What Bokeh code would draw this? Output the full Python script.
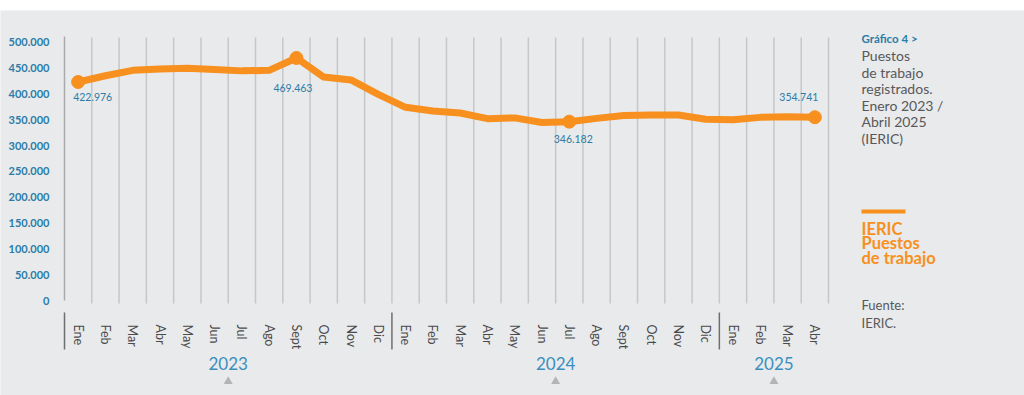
from bokeh.plotting import figure
from bokeh.models import FixedTicker, LinearAxis, Range1d
from bokeh.core.properties import value
from bokeh.embed import file_html
from bokeh.resources import INLINE

# ---- data ----
years = ["2023"] * 12 + ["2024"] * 12 + ["2025"] * 4
months = ["Ene", "Feb", "Mar", "Abr", "May", "Jun", "Jul", "Ago", "Sept", "Oct", "Nov", "Dic",
          "Ene", "Feb", "Mar", "Abr", "May", "Jun", "Jul", "Ago", "Sept", "Oct", "Nov", "Dic",
          "Ene", "Feb", "Mar", "Abr"]
puestos = [422976, 435000, 445500, 448000, 449500, 447000, 444500, 445500, 469463, 432500, 427000, 399000,
           374000, 367000, 363000, 352000, 353500, 344500, 346182, 352500, 358000, 359000, 359000, 351000,
           350000, 354500, 355500, 354741]
highlight_idx = [0, 8, 18, 27]
y_ticks = [0, 50000, 100000, 150000, 200000, 250000, 300000, 350000, 400000, 450000, 500000]

titulo = "Gráfico 4 >"
title_lines = ["Puestos", "de trabajo", "registrados.", "Enero 2023 /", "Abril 2025", "(IERIC)"]
legend_lines = ["IERIC", "Puestos", "de trabajo"]
source_lines = ["Fuente:", "IERIC."]

# ---- styles / layout ----
BG = "#e9eaeb"
ORANGE = "#f7901e"
BLUE = "#2b7ca8"
BLUE_LIGHT = "#3a8fbf"
GRAY_TXT = "#58595b"
GRID = "#c6c7c9"
FONT = "Lato"

WIDTH, HEIGHT, TOP = 1024, 395, 10
AX_LEFT, AX_RIGHT = 64, 828          # pixel extent of the month slots
ZERO_PX, TICK500_PX = 300, 41.7      # pixel rows of 0 and 500.000
n = len(months)
SLOT = (AX_RIGHT - AX_LEFT) / n
PPU = (ZERO_PX - TICK500_PX) / 500000.0


def X(px):  # layout pixel column -> x data coordinate
    return (px - AX_LEFT) / SLOT - 0.5


def Y(py):  # layout pixel row -> y data coordinate
    return (ZERO_PX - py) / PPU


def fmt(v):
    return f"{v:,}".replace(",", ".")


xs = list(range(n))

p = figure(width=WIDTH, height=HEIGHT, output_backend="svg", toolbar_location=None,
           x_range=Range1d(X(0), X(WIDTH)), y_range=Range1d(Y(HEIGHT), Y(TOP)),
           x_axis_location=None, y_axis_location=None,
           background_fill_color=BG, border_fill_color="white", outline_line_color=None,
           min_border_left=0, min_border_right=0, min_border_top=TOP, min_border_bottom=0)
p.xgrid.visible = False
p.ygrid.visible = False

# vertical grid lines at slot boundaries
gx = [k + 0.5 for k in xs]
p.segment(x0=gx, y0=[Y(303)] * n, x1=gx, y1=[Y(37)] * n, line_color=GRID, line_width=1.5)

# y axis
ya = LinearAxis(fixed_location=-0.5, bounds=(0, Y(36)))
ya.ticker = FixedTicker(ticks=y_ticks)
ya.major_label_overrides = {t: fmt(t) for t in y_ticks}
ya.major_label_text_font = FONT
ya.major_label_text_font_style = "bold"
ya.major_label_text_font_size = "11px"
ya.major_label_text_color = BLUE
ya.axis_line_color = "#a9aaac"
ya.axis_line_width = 1.5
ya.major_tick_line_color = None
ya.minor_tick_line_color = None
ya.major_label_standoff = 9
p.add_layout(ya, "left")

# month axis
xa = LinearAxis(fixed_location=0)
xa.ticker = FixedTicker(ticks=xs)
xa.major_label_overrides = {k: months[k] for k in xs}
xa.major_label_orientation = "vertical"
xa.major_label_text_font = FONT
xa.major_label_text_font_size = "12.5px"
xa.major_label_text_color = "#4a4b4d"
xa.axis_line_color = None
xa.major_tick_line_color = None
xa.minor_tick_line_color = None
xa.major_label_standoff = 18
p.add_layout(xa, "below")

# year groups: labels, separators, triangles
starts, counts = {}, {}
for k, yy in enumerate(years):
    starts.setdefault(yy, k)
    counts[yy] = counts.get(yy, 0) + 1
group_names = list(starts)
group_c = [starts[g] + (counts[g] - 1) / 2 for g in group_names]
sep_x = [starts[g] - 0.5 for g in group_names]
p.segment(x0=sep_x, y0=[Y(312)] * len(sep_x), x1=sep_x, y1=[Y(349)] * len(sep_x),
          line_color="#6d6e70", line_width=1.5)
p.text(x=group_c, y=[Y(363)] * len(group_c), text=group_names, text_align="center",
       text_baseline="middle", text_font=value(FONT), text_font_size="17px",
       text_color=BLUE_LIGHT)
p.scatter(x=group_c, y=[Y(381)] * len(group_c), marker="triangle", size=9,
          fill_color="#b3b4b6", line_color=None)

# line + markers
p.line(x=xs, y=puestos, line_color=ORANGE, line_width=7, line_join="round", line_cap="round")
p.scatter(x=highlight_idx, y=[puestos[i] for i in highlight_idx], size=13,
          fill_color=ORANGE, line_color=ORANGE)

# value labels
label_style = [(-5, 15.5, "left"), (-3.5, 30, "center"), (4, 17.5, "center"), (-16, -20, "center")]
for i, (dx, dy, al) in zip(highlight_idx, label_style):
    p.text(x=[i], y=[puestos[i]], text=[fmt(puestos[i])],
           x_offset=dx, y_offset=dy, text_align=al, text_baseline="middle",
           text_font=value(FONT), text_font_size="10.5px", text_color=BLUE)

# ---- right panel ----
tx = X(861)
p.text(x=[tx], y=[Y(38)], text=[titulo], text_baseline="middle", text_font=value(FONT),
       text_font_style="bold", text_font_size="11.5px", text_color=BLUE)
p.text(x=[tx] * len(title_lines), y=[Y(55 + k * 16.6) for k in range(len(title_lines))],
       text=title_lines, text_baseline="middle", text_font=value(FONT),
       text_font_size="14px", text_color=GRAY_TXT)
p.quad(left=[tx], right=[X(905)], top=[Y(209)], bottom=[Y(213)], fill_color=ORANGE, line_color=None)
p.text(x=[tx] * len(legend_lines), y=[Y(228 + k * 14.6) for k in range(len(legend_lines))],
       text=legend_lines, text_baseline="middle", text_font=value(FONT),
       text_font_style="bold", text_font_size="16.5px", text_color=ORANGE)
p.text(x=[tx] * len(source_lines), y=[Y(304 + k * 18) for k in range(len(source_lines))],
       text=source_lines, text_baseline="middle", text_font=value(FONT),
       text_font_size="13px", text_color=GRAY_TXT)

open("out.html", "w").write(file_html(p, INLINE))
